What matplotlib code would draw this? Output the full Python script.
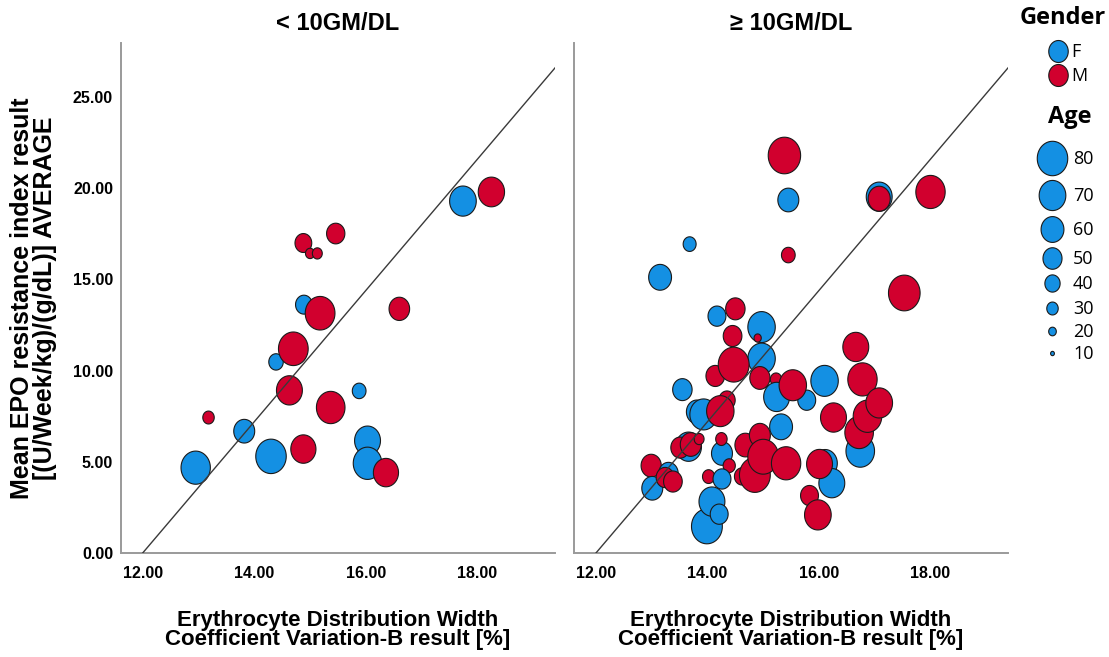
import matplotlib
matplotlib.use("Agg")
import matplotlib.pyplot as plt
import numpy as np
from matplotlib.path import Path

# --- data ---
# panel 1: < 10 g/dL
low_x = [12.95, 13.82, 13.18, 14.30, 14.88, 14.39, 14.63, 14.70, 14.89, 15.18, 14.88,
         15.00, 15.13, 15.46, 15.37, 15.88, 16.03, 16.03, 16.36, 16.60, 17.74, 18.25]
low_y = [4.68, 6.68, 7.43, 5.30, 5.70, 10.48, 8.92, 11.20, 13.62, 13.15, 17.00,
         16.43, 16.43, 17.52, 7.98, 8.89, 6.16, 4.92, 4.41, 13.39, 19.30, 19.80]
low_age = [77, 55, 30, 80, 66, 38, 68, 78, 44, 78, 44,
           24, 26, 48, 75, 36, 68, 75, 66, 54, 70, 69]
low_sex = ["F", "F", "M", "F", "M", "F", "M", "M", "F", "M", "M",
           "M", "M", "M", "M", "F", "F", "F", "M", "M", "F", "M"]

# panel 2: >= 10 g/dL
high_x = [15.38, 15.45, 17.08, 17.08, 18.00, 13.68, 15.45, 13.15, 17.53,
          14.17, 14.50, 14.97, 14.97, 14.90, 14.45, 14.14, 14.47, 14.94, 15.23,
          15.24, 15.78, 15.53, 16.10, 13.55, 13.81, 13.93, 14.35, 14.23,
          13.66, 13.51, 13.70, 13.85, 12.99, 13.01, 13.30, 13.24, 13.38,
          14.26, 14.25, 14.39, 14.02, 14.26, 13.99, 14.08, 14.21,
          14.68, 14.62, 14.85, 14.94, 15.32, 15.00, 15.41,
          16.11, 16.23, 16.01, 15.83, 15.98, 16.26, 16.66, 16.78,
          16.74, 16.72, 16.87, 17.08]
high_y = [21.80, 19.36, 19.54, 19.43, 19.80, 16.94, 16.34, 15.12, 14.26,
          12.99, 13.39, 12.39, 10.66, 11.79, 11.90, 9.71, 10.33, 9.60, 9.52,
          8.56, 8.38, 9.20, 9.44, 8.96, 7.74, 7.60, 8.38, 7.78,
          5.83, 5.78, 5.95, 6.25, 4.79, 3.55, 4.37, 4.14, 3.92,
          5.46, 6.25, 4.79, 4.19, 4.06, 1.46, 2.82, 2.13,
          5.92, 4.20, 4.28, 6.46, 6.92, 5.28, 4.92,
          4.92, 3.83, 4.88, 3.15, 2.09, 7.43, 11.30, 9.52,
          5.59, 6.61, 7.50, 8.23]
high_age = [85, 55, 68, 58, 77, 34, 36, 60, 83,
            47, 51, 72, 72, 19, 49, 49, 81, 53, 30,
            68, 47, 72, 72, 51, 55, 72, 43, 72,
            68, 49, 55, 26, 53, 55, 51, 47, 49,
            55, 30, 32, 32, 47, 81, 68, 47,
            55, 40, 81, 55, 60, 81, 77,
            64, 68, 68, 47, 70, 68, 68, 77,
            75, 75, 75, 70]
high_sex = ["M", "F", "F", "M", "M", "F", "M", "F", "M",
            "F", "M", "F", "F", "M", "M", "M", "M", "M", "M",
            "F", "F", "M", "F", "F", "F", "F", "M", "M",
            "F", "M", "M", "M", "M", "F", "F", "M", "M",
            "F", "M", "M", "M", "F", "F", "F", "F",
            "M", "M", "M", "M", "F", "M", "M",
            "F", "F", "M", "M", "M", "M", "M", "M",
            "F", "M", "M", "M"]

panel_titles = ["< 10GM/DL", "\u2265 10GM/DL"]
legend_ages = [80, 70, 60, 50, 40, 30, 20, 10]
gender_labels = ["F", "M"]

BLUE = "#1490E3"
RED = "#D1002E"
colors = {"F": BLUE, "M": RED}

# slightly tall ellipse marker (the original is stretched vertically)
t = np.linspace(0, 2 * np.pi, 60)
ellipse = Path(np.column_stack([np.cos(t) / 1.13, np.sin(t)]), closed=True)


def bubble_size(age):
    return (0.31 * np.asarray(age, dtype=float)) ** 2


plt.rcParams["font.family"] = ["Liberation Sans", "DejaVu Sans"]

fig = plt.figure(figsize=(11.09, 6.57), dpi=100)
W, H = 1109, 657
ax_left = fig.add_axes([120.7 / W, 1 - 553 / H, 434.3 / W, 510 / H])
ax_right = fig.add_axes([574 / W, 1 - 553 / H, 434 / W, 510 / H])

panels = [(ax_left, low_x, low_y, low_age, low_sex),
          (ax_right, high_x, high_y, high_age, high_sex)]

for i, (ax, xs, ys, ages, sexes) in enumerate(panels):
    ax.scatter(xs, ys, s=bubble_size(ages), c=[colors[g] for g in sexes],
               marker=ellipse, edgecolors="#1a1a1a", linewidths=0.8, zorder=2)
    ax.axline((12, 0), slope=3.6, color="#3a3a3a", lw=1.0, zorder=3)

    ax.set_xlim(11.606, 19.39)
    ax.set_ylim(0.1, 27.97)
    ax.set_xticks([12, 14, 16, 18])
    ax.set_xticklabels([f"{v:.2f}" for v in [12, 14, 16, 18]])
    ax.set_yticks([0, 5, 10, 15, 20, 25])
    if i == 0:
        ax.set_yticklabels([f"{v:.2f}" for v in [0, 5, 10, 15, 20, 25]])
    else:
        ax.set_yticklabels([])
    for lab in ax.get_xticklabels() + ax.get_yticklabels():
        lab.set_fontweight("bold")
        lab.set_fontsize(11.5)
    ax.tick_params(axis="x", length=0, pad=9)
    ax.tick_params(axis="y", length=0, pad=5.5)

    for side in ["top", "right"]:
        ax.spines[side].set_visible(False)
    for side in ["left", "bottom"]:
        ax.spines[side].set_color("#9a9a9a")
        ax.spines[side].set_linewidth(1.4)

    ax.text(0.5, 1.039, panel_titles[i], transform=ax.transAxes, ha="center",
            va="center", fontsize=17, fontweight="bold")
    ax.text(0.5, -0.151, "Erythrocyte Distribution Width\nCoefficient Variation-B result [%]",
            transform=ax.transAxes, ha="center", va="center", fontsize=16,
            fontweight="bold", linespacing=0.9)

ax_left.text(-0.2008, 0.5,
             "Mean EPO resistance index result\n[(U/Week/kg)/(g/dL)] AVERAGE",
             transform=ax_left.transAxes, rotation=90, ha="center", va="center",
             fontsize=18, fontweight="bold", linespacing=0.95)

# legend drawn on an overlay in pixel coordinates
leg = fig.add_axes([0, 0, 1, 1], facecolor="none")
leg.set_xlim(0, W)
leg.set_ylim(H, 0)
leg.axis("off")
leg_font = ["Open Sans", "DejaVu Sans"]

leg.text(1063, 18, "Gender", ha="center", va="center", fontsize=17,
         fontweight="bold", family=leg_font)
for g, yy in zip(gender_labels, [50.7, 75]):
    leg.scatter([1057.7], [yy], s=(22 * 0.72) ** 2, c=colors[g], marker=ellipse,
                edgecolors="#1a1a1a", linewidths=0.8)
    leg.text(1071, yy + 1, g, ha="left", va="center", fontsize=13, family=leg_font)

leg.text(1070, 117, "Age", ha="center", va="center", fontsize=17,
         fontweight="bold", family=leg_font)
age_y = [157.5, 195.3, 228.8, 258.3, 283.3, 308.3, 330.8, 353.3]
for a, yy in zip(legend_ages, age_y):
    leg.scatter([1051.7], [yy], s=bubble_size(a), c=BLUE, marker=ellipse,
                edgecolors="#1a1a1a", linewidths=0.8)
    leg.text(1073, yy + 1, str(a), ha="left", va="center", fontsize=13, family=leg_font)

fig.savefig("out.png", dpi=100)
